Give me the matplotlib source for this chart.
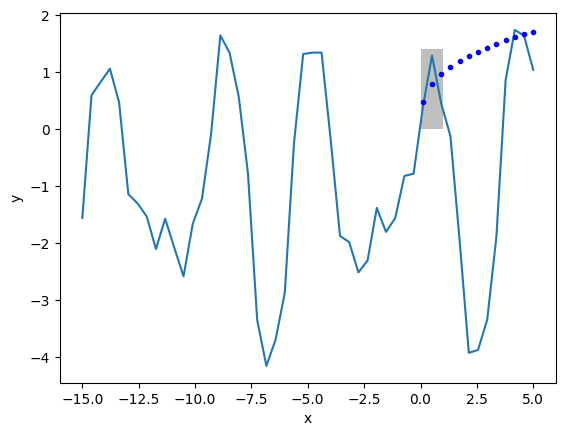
import numpy as np
import matplotlib
matplotlib.use("Agg")
import matplotlib.pyplot as plt

# Line series: 50 evenly spaced x from -15 to 5
x_start, x_stop, n_points = -15.0, 5.0, 50
y_line = [
    -1.556, 0.595, 0.83, 1.06, 0.467, -1.14, -1.30, -1.53, -2.10, -1.57,
    -2.08, -2.58, -1.66, -1.22, -0.076, 1.644, 1.34, 0.566, -0.775, -3.34,
    -4.15, -3.69, -2.87, -0.25, 1.317, 1.342, 1.342, -0.20, -1.87, -1.98,
    -2.51, -2.30, -1.38, -1.80, -1.56, -0.82, -0.78, 0.38, 1.29, 0.45,
    -0.12, -1.95, -3.92, -3.87, -3.34, -1.88, 0.86, 1.74, 1.64, 1.04,
]

# Dotted series: starts at the 38th x value of the line
dot_start_index = 37
y_dots = [0.47, 0.80, 0.974, 1.097, 1.20, 1.29, 1.36, 1.43, 1.50, 1.555, 1.61, 1.66, 1.71]

# Shaded box
box_x = [0.0, 1.0]
box_y_low, box_y_high = 0.0, 1.4

x = np.linspace(x_start, x_stop, n_points)

fig, ax = plt.subplots(figsize=(6.4, 4.8), dpi=100)
ax.fill_between(box_x, box_y_low, box_y_high, color='grey', alpha=0.5, linewidth=0)
ax.plot(x, y_line)
ax.plot(x[dot_start_index:], y_dots, 'b.')
ax.set_xlabel('x')
ax.set_ylabel('y')
fig.savefig('out.png', bbox_inches='tight')
